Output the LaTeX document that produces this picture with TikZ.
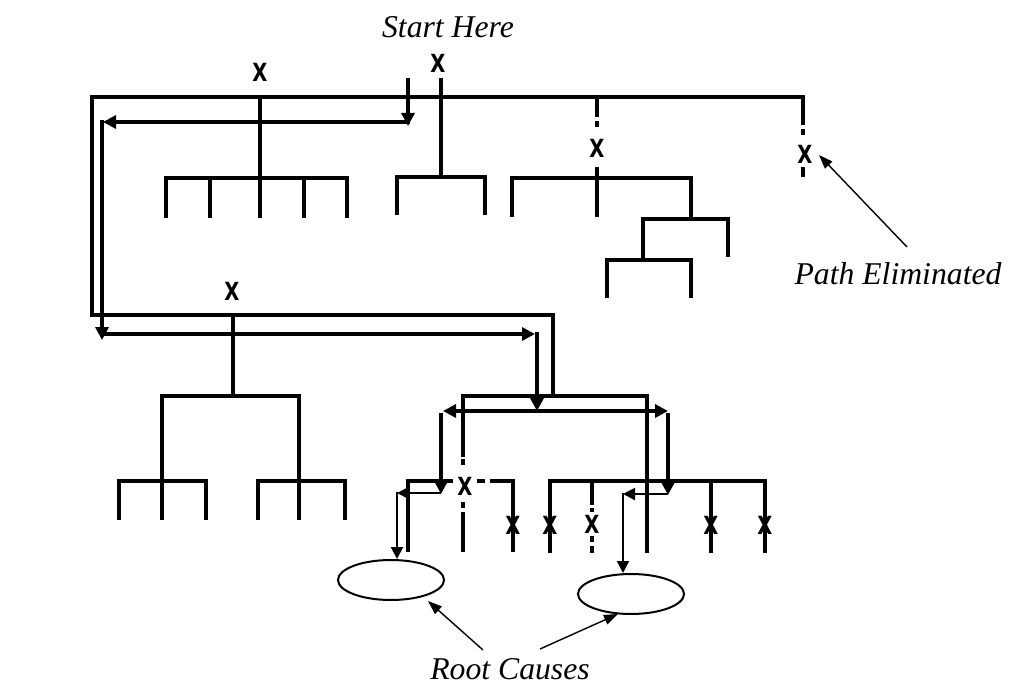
\documentclass[tikz,border=0pt]{standalone}
\usepackage{fontspec}
\usepackage{graphicx}
\setmainfont{Liberation Serif}
\newfontfamily\xfont{DejaVu Sans}
\usetikzlibrary{arrows.meta,shapes.geometric}
\newcommand{\xm}{\scalebox{0.78}[1]{X}}
\begin{document}
\begin{tikzpicture}[x=1pt,y=-1pt,
  tree/.style={line width=4pt, line cap=butt, line join=miter},
  bigarrow/.style={line width=4pt, -{Triangle[length=13pt,width=13pt]}},
  thinarrow/.style={line width=2pt, -{Triangle[length=12pt,width=12pt]}},
  pointer/.style={line width=1.4pt, -{Triangle[length=14pt,width=10pt]}},
  xmark/.style={font=\xfont\bfseries\fontsize{25}{25}\selectfont, inner sep=0pt},
  lbl/.style={font=\itshape\fontsize{31.7}{32}\selectfont, inner sep=0pt, anchor=base},
  cause/.style={draw, line width=2pt, ellipse, minimum width=106pt, minimum height=40pt, inner sep=0pt}]
\useasboundingbox (0,0) rectangle (1013,685);

% labels
\node[lbl] (start) at (448,38) {Start Here};
\node[lbl] (elim) at (898,284) {Path Eliminated};
\node[lbl] (root) at (510,679) {Root Causes};

% top structure
\draw[tree] (803,125) -- (803,97) -- (92,97) -- (92,315) -- (553,315) -- (553,397);
\draw[tree] (803,129) -- (803,135);
\draw[tree] (803,167) -- (803,177);
\node[xmark] (x8) at (805,154) {\xm};

% top-left subtree
\node[xmark] (x1) at (260,72) {\xm};
\draw[tree] (260,97) -- (260,218);
\draw[tree] (166,218) -- (166,178) -- (347,178) -- (347,218);
\draw[tree] (210,178) -- (210,218);
\draw[tree] (304,178) -- (304,218);

% start subtree
\node[xmark] (x2) at (438,63) {\xm};
\draw[tree] (441,78) -- (441,177);
\draw[tree] (397,215) -- (397,177) -- (485,177) -- (485,215);

% middle-right top subtree
\draw[tree] (597,97) -- (597,117);
\draw[tree] (597,121) -- (597,127);
\node[xmark] (x3) at (597,148) {\xm};
\draw[tree] (597,167) -- (597,217);
\draw[tree] (512,217) -- (512,178) -- (691,178) -- (691,219);
\draw[tree] (643,257) -- (643,219) -- (728,219) -- (728,257);
\draw[tree] (643,219) -- (643,260);
\draw[tree] (607,298) -- (607,260) -- (691,260) -- (691,298);

% lower-left tree
\node[xmark] (x4) at (232,291) {\xm};
\draw[tree] (233,315) -- (233,396);
\draw[tree] (162,520) -- (162,396) -- (299,396) -- (299,520);
\draw[tree] (119,520) -- (119,481) -- (206,481) -- (206,520);
\draw[tree] (258,520) -- (258,481) -- (345,481) -- (345,520);

% middle tree
\draw[tree] (463,457) -- (463,396) -- (647,396) -- (647,553);
\draw[tree] (463,459) -- (463,465);
\node[xmark] (x5) at (465,486) {\xm};
\draw[tree] (463,502) -- (463,508);
\draw[tree] (463,512) -- (463,552);
\draw[tree] (408,552) -- (408,481) -- (453,481);
\draw[tree] (477,481) -- (485,481);
\draw[tree] (490,481) -- (513,481) -- (513,552);
\node[xmark] (x6) at (513,525) {\xm};

% right sub-group
\draw[tree] (550,553) -- (550,481) -- (765,481) -- (765,553);
\draw[tree] (711,481) -- (711,553);
\draw[tree] (592,481) -- (592,505);
\draw[tree] (592,508) -- (592,512);
\draw[tree] (592,536) -- (592,542);
\draw[tree] (592,546) -- (592,553);
\node[xmark] (x7) at (550,525) {\xm};
\node[xmark] (x9) at (592,524) {\xm};
\node[xmark] (x10) at (711,525) {\xm};
\node[xmark] (x11) at (765,525) {\xm};

% search path arrows
\coordinate (p1) at (408,78);
\coordinate (p2) at (408,122);
\coordinate (p3) at (102,122);
\coordinate (p4) at (102,334);
\coordinate (p5) at (537,334);
\coordinate (p6) at (537,411);
\coordinate (p7) at (441,411);
\coordinate (p8) at (668,411);
\coordinate (p9) at (441,493);
\coordinate (p10) at (397,493);
\coordinate (p11) at (668,494);
\coordinate (p12) at (623,494);

\draw[bigarrow] (p1) -- ([yshift=-4pt]p2);
\draw[bigarrow] ([xshift=2pt]p2) -- ([xshift=1pt]p3);
\draw[bigarrow] ([yshift=2pt]p3) -- ([yshift=-6pt]p4);
\draw[bigarrow] ([xshift=1pt]p4) -- ([xshift=-2pt]p5);
\draw[bigarrow] ([yshift=2pt]p5) -- (p6);
\draw[line width=4pt, {Triangle[length=13pt,width=13pt]}-{Triangle[length=13pt,width=13pt]}] ([xshift=2pt]p7) -- (p8);
\draw[bigarrow] ([yshift=-2pt]p7) -- ([yshift=-1pt]p9);
\draw[bigarrow] ([yshift=-2pt]p8) -- ([yshift=-1pt]p11);

% root causes
\node[cause] (rc1) at (391,580) {};
\node[cause] (rc2) at (631,594) {};
\draw[thinarrow] (p9) -- (p10);
\draw[thinarrow] ([yshift=1pt]p10) -- (rc1.north -| p10);
\draw[thinarrow] (p11) -- (p12);
\draw[thinarrow] ([yshift=1pt]p12) -- (rc2.north -| p12);

% pointers
\coordinate (e1) at (907,247);
\coordinate (r1) at (483,650);
\coordinate (r2) at (540,649);
\draw[pointer] (e1) -- (819,155);
\draw[pointer] (r1) -- (428,601);
\draw[pointer] (r2) -- (618,614);
\end{tikzpicture}
\end{document}
